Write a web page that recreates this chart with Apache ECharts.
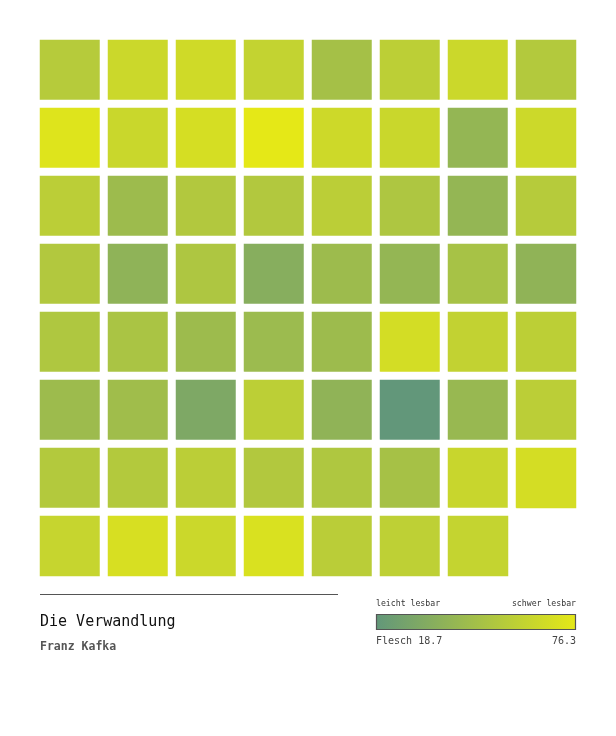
<!DOCTYPE html>
<html>
<head>
<meta charset="utf-8">
<script src="https://cdn.jsdelivr.net/npm/echarts@6/dist/echarts.min.js"></script>
<style>
  html, body { margin: 0; padding: 0; background: #fff; }
  #chart { width: 616px; height: 736px; }
</style>
</head>
<body>
<div id="chart"></div>
<script>
// Flesch reading ease per text block, read row by row (8 per row)
let flesch = [
    55.6, 64.8, 66.5, 61.3, 48.1, 58.4, 64.8, 54.4,
    73.4, 64.2, 69.4, 76.3, 65.9, 64.2, 40.6, 65.4,
    57.9, 44.6, 53.8, 53.8, 57.9, 52.1, 40.6, 55.6,
    53.8, 38.3, 52.1, 34.8, 44.6, 40.6, 49.2, 38.9,
    52.7, 50.4, 44.6, 44.0, 44.6, 68.2, 60.7, 58.4,
    44.6, 45.8, 30.8, 58.4, 38.9, 18.7, 42.3, 57.9,
    54.4, 54.4, 57.9, 53.8, 52.7, 48.7, 63.6, 68.8,
    62.5, 70.0, 64.8, 71.1, 57.3, 59.0, 61.9
];
let columns = ['0', '1', '2', '3', '4', '5', '6', '7'];
let rows = ['0', '1', '2', '3', '4', '5', '6', '7'];
let scaleColors = ['#62977a', '#e5e817'];
let title = 'Die Verwandlung';
let author = 'Franz Kafka';
let legendLabels = ['leicht lesbar', 'schwer lesbar'];

let minVal = Math.min.apply(null, flesch);
let maxVal = Math.max.apply(null, flesch);

let cells = flesch.map(function (v, i) {
    return [i % 8, Math.floor(i / 8), v];
});

let font = "'DejaVu Sans Mono', monospace";
let chart = echarts.init(document.getElementById('chart'));

let option = {
    backgroundColor: '#fff',
    animation: false,
    grid: { left: 36, top: 36, width: 544, height: 544 },
    xAxis: { type: 'category', data: columns, show: false },
    yAxis: { type: 'category', data: rows, inverse: true, show: false },
    visualMap: {
        show: false,
        type: 'continuous',
        min: minVal,
        max: maxVal,
        dimension: 2,
        inRange: { color: scaleColors }
    },
    series: [{
        type: 'heatmap',
        data: cells,
        itemStyle: { borderColor: '#fff', borderWidth: 8 },
        emphasis: { disabled: true }
    }],
    graphic: [
        // divider under the grid
        { type: 'line', shape: { x1: 40, y1: 594.5, x2: 338, y2: 594.5 },
          style: { stroke: '#555', lineWidth: 1 } },
        { type: 'text', left: 40, top: 615,
          style: { text: title, font: '15px ' + font, fill: '#111' } },
        { type: 'text', left: 40, top: 641,
          style: { text: author, font: 'bold 11.5px ' + font, fill: '#555' } },
        // colour scale legend
        { type: 'text', left: 376, top: 600,
          style: { text: legendLabels[0], font: '8.2px ' + font, fill: '#333' } },
        { type: 'text', right: 40, top: 600,
          style: { text: legendLabels[1], font: '8.2px ' + font, fill: '#333', align: 'right' } },
        { type: 'rect', shape: { x: 376.5, y: 614.5, width: 199, height: 15 },
          style: {
              fill: new echarts.graphic.LinearGradient(0, 0, 1, 0, [
                  { offset: 0, color: scaleColors[0] },
                  { offset: 1, color: scaleColors[1] }
              ]),
              stroke: '#555', lineWidth: 1.2
          } },
        { type: 'text', left: 376, top: 636,
          style: { text: 'Flesch ' + minVal.toFixed(1), font: '10px ' + font, fill: '#444' } },
        { type: 'text', right: 40, top: 636,
          style: { text: maxVal.toFixed(1), font: '10px ' + font, fill: '#444', align: 'right' } }
    ]
};
chart.setOption(option);
</script>
</body>
</html>
